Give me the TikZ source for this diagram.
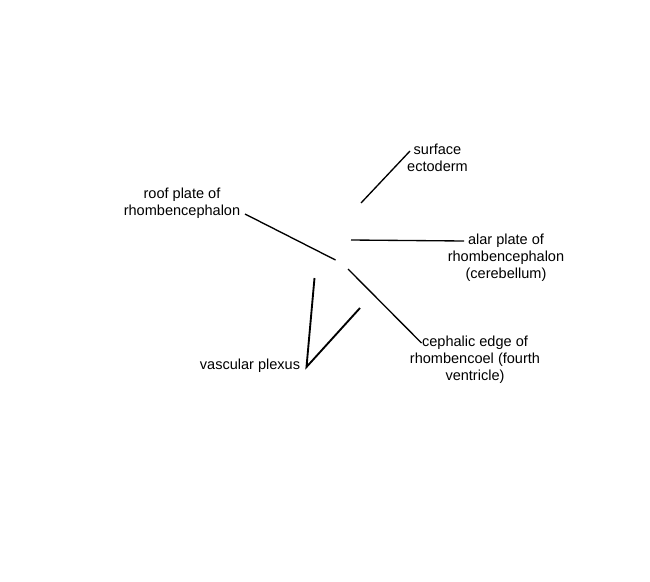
\documentclass[tikz,border=0pt]{standalone}
\usepackage{fontspec}
\setmainfont{Liberation Sans}
\begin{document}
\begin{tikzpicture}[x=0.75pt,y=-0.75pt,
  lbl/.style={align=center,inner sep=0pt,font=\fontsize{10.9}{12.75}\selectfont},
  lead/.style={draw=black,line width=1pt},
  leadthick/.style={draw=black,line width=1.4pt,line join=miter}]
\useasboundingbox (0,0) rectangle (650,582);
\node[lbl] (surf) at (437.5,158) {surface\\ectoderm};
\node[lbl] (roof) at (182,203) {roof plate of\\rhombencephalon};
\node[lbl] (alar) at (506,258) {alar plate of\\rhombencephalon\\(cerebellum)};
\node[lbl] (ceph) at (475,360) {cephalic edge of\\rhombencoel (fourth\\ventricle)};
\node[lbl] (vasc) at (250,366) {vascular plexus};
\coordinate (surfA) at (410,151);
\coordinate (surfB) at (361,203);
\coordinate (roofA) at (245,214);
\coordinate (roofB) at (335.5,260);
\coordinate (alarA) at (464,241);
\coordinate (alarB) at (351,240);
\coordinate (cephA) at (421.5,343);
\coordinate (cephB) at (348,269);
\coordinate (vascA) at (306.5,367);
\coordinate (vascB) at (314.5,278);
\coordinate (vascC) at (360,308);
\draw[lead] (surfA) -- (surfB);
\draw[lead] (roofA) -- (roofB);
\draw[lead] (alarA) -- (alarB);
\draw[lead] (cephA) -- (cephB);
\draw[leadthick] (vascB) -- (vascA) -- (vascC);
\end{tikzpicture}
\end{document}
